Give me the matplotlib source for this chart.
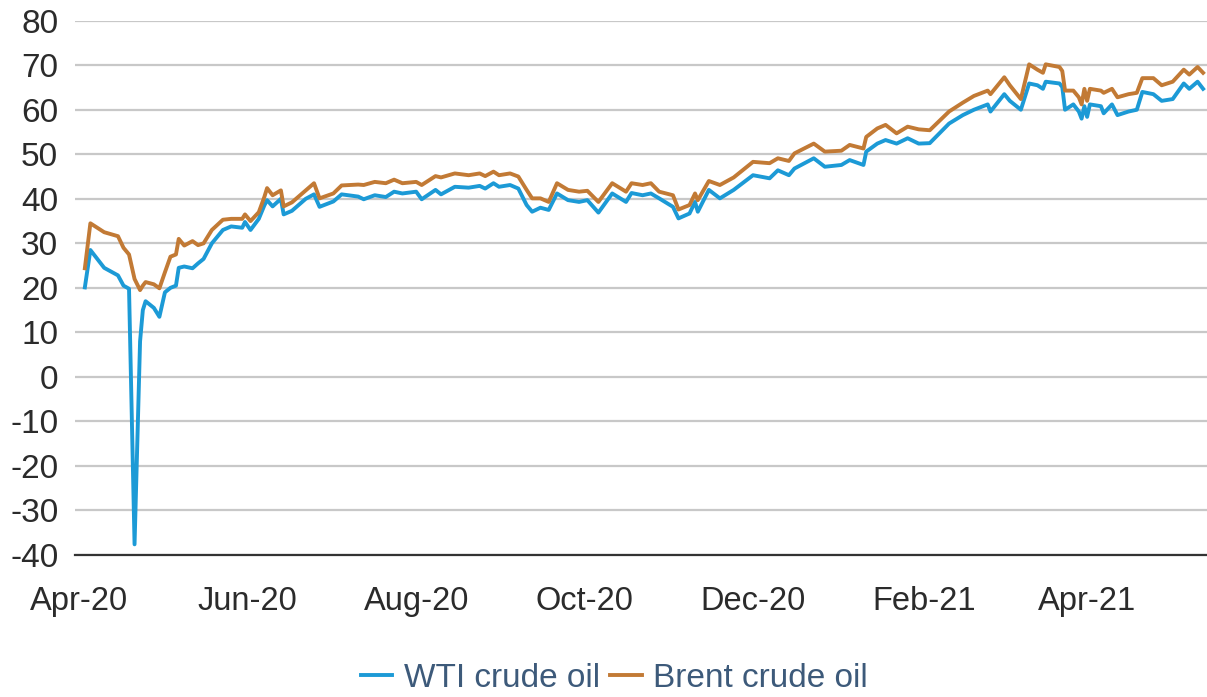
import matplotlib
matplotlib.use("Agg")
import matplotlib.pyplot as plt
import matplotlib.dates as mdates
import pandas as pd

plt.rcParams['font.family'] = ['Liberation Sans', 'DejaVu Sans']
plt.rcParams['axes.unicode_minus'] = False

# values (USD per barrel)
dates = [
    "2020-04-03", "2020-04-05", "2020-04-10", "2020-04-15", "2020-04-17", "2020-04-19",
    "2020-04-21", "2020-04-23", "2020-04-24", "2020-04-25", "2020-04-28", "2020-04-30",
    "2020-05-02", "2020-05-04", "2020-05-06", "2020-05-07", "2020-05-09", "2020-05-12",
    "2020-05-14", "2020-05-16", "2020-05-19", "2020-05-23", "2020-05-26", "2020-05-30",
    "2020-05-31", "2020-06-02", "2020-06-05", "2020-06-07", "2020-06-08", "2020-06-10",
    "2020-06-13", "2020-06-14", "2020-06-17", "2020-06-22", "2020-06-25", "2020-06-27",
    "2020-07-02", "2020-07-05", "2020-07-11", "2020-07-13", "2020-07-17", "2020-07-21",
    "2020-07-24", "2020-07-27", "2020-08-01", "2020-08-03", "2020-08-08", "2020-08-10",
    "2020-08-15", "2020-08-20", "2020-08-24", "2020-08-26", "2020-08-29", "2020-08-31",
    "2020-09-04", "2020-09-07", "2020-09-10", "2020-09-12", "2020-09-15", "2020-09-18",
    "2020-09-21", "2020-09-25", "2020-09-29", "2020-10-02", "2020-10-06", "2020-10-11",
    "2020-10-16", "2020-10-18", "2020-10-22", "2020-10-25", "2020-10-28", "2020-11-02",
    "2020-11-04", "2020-11-08", "2020-11-10", "2020-11-11", "2020-11-15", "2020-11-19",
    "2020-11-24", "2020-12-01", "2020-12-07", "2020-12-10", "2020-12-14", "2020-12-16",
    "2020-12-23", "2020-12-27", "2021-01-02", "2021-01-05", "2021-01-10", "2021-01-11",
    "2021-01-15", "2021-01-18", "2021-01-22", "2021-01-26", "2021-01-30", "2021-02-03",
    "2021-02-10", "2021-02-15", "2021-02-19", "2021-02-24", "2021-02-25", "2021-03-02",
    "2021-03-04", "2021-03-08", "2021-03-11", "2021-03-14", "2021-03-16", "2021-03-17",
    "2021-03-22", "2021-03-23", "2021-03-24", "2021-03-27", "2021-03-29", "2021-03-30",
    "2021-03-31", "2021-04-01", "2021-04-02", "2021-04-06", "2021-04-07", "2021-04-10",
    "2021-04-12", "2021-04-16", "2021-04-19", "2021-04-21", "2021-04-25", "2021-04-28",
    "2021-05-02", "2021-05-06", "2021-05-08", "2021-05-11", "2021-05-13",
]

wti = [
    20.1, 28.5, 24.5, 22.8, 20.5, 19.8,
    -37.6, 8.0, 15.0, 17.0, 15.5, 13.5,
    19.0, 20.0, 20.5, 24.5, 24.8, 24.4,
    25.5, 26.5, 30.0, 33.0, 33.8, 33.5,
    34.8, 33.0, 35.5, 38.5, 39.7, 38.3,
    40.0, 36.5, 37.3, 40.0, 41.0, 38.2,
    39.4, 41.0, 40.5, 39.9, 40.8, 40.4,
    41.6, 41.2, 41.6, 39.9, 42.0, 41.0,
    42.7, 42.5, 42.9, 42.3, 43.5, 42.7,
    43.1, 42.3, 38.6, 37.1, 38.0, 37.5,
    41.2, 39.7, 39.3, 39.7, 36.9, 41.2,
    39.3, 41.3, 40.8, 41.2, 40.1, 38.2,
    35.6, 36.7, 39.3, 37.1, 42.0, 40.1,
    42.0, 45.3, 44.6, 46.4, 45.3, 46.8,
    49.1, 47.2, 47.6, 48.7, 47.6, 50.6,
    52.4, 53.2, 52.4, 53.6, 52.4, 52.5,
    56.9, 58.8, 60.0, 61.2, 59.6, 63.5,
    62.0, 60.0, 65.9, 65.5, 64.7, 66.3,
    65.9, 65.1, 60.0, 61.2, 59.6, 58.0,
    60.8, 58.4, 61.2, 60.8, 59.2, 61.2,
    58.8, 59.6, 60.0, 64.0, 63.5, 62.0,
    62.4, 65.9, 64.7, 66.3, 64.7,
]

brent = [
    24.4, 34.5, 32.5, 31.6, 29.0, 27.5,
    22.0, 19.5, 20.5, 21.3, 20.8, 19.9,
    23.5, 27.0, 27.5, 31.0, 29.5, 30.5,
    29.6, 30.0, 33.0, 35.3, 35.5, 35.5,
    36.5, 35.0, 37.0, 40.4, 42.4, 40.8,
    41.9, 38.3, 39.2, 41.9, 43.5, 40.1,
    41.2, 43.0, 43.2, 43.1, 43.8, 43.5,
    44.3, 43.5, 43.8, 43.1, 45.1, 44.8,
    45.7, 45.3, 45.7, 45.1, 46.1, 45.3,
    45.7, 45.0, 42.0, 40.1, 40.1, 39.3,
    43.5, 42.0, 41.6, 41.8, 39.3, 43.5,
    41.6, 43.5, 43.1, 43.5, 41.6, 40.8,
    37.6, 38.6, 41.2, 39.7, 44.0, 43.1,
    44.8, 48.3, 48.0, 49.1, 48.5, 50.2,
    52.4, 50.6, 50.8, 52.1, 51.3, 53.9,
    55.8, 56.6, 54.7, 56.2, 55.6, 55.4,
    59.6, 61.6, 63.1, 64.3, 63.5, 67.3,
    65.5, 62.4, 70.2, 69.0, 68.3, 70.2,
    69.6, 68.7, 64.3, 64.3, 62.8, 61.2,
    64.7, 62.0, 64.7, 64.3, 63.8, 64.7,
    62.8, 63.5, 63.8, 67.1, 67.1, 65.5,
    66.3, 69.0, 67.9, 69.6, 68.3,
]

x = pd.to_datetime(dates)

fig = plt.figure(figsize=(12.07, 6.97), dpi=100)
ax = fig.add_axes([0.0621, 0.2037, 0.9379, 0.7666])

ax.plot(x, wti, color="#1c9ad6", lw=2.8, label="WTI crude oil", solid_joinstyle="round")
ax.plot(x, brent, color="#c27a35", lw=2.8, label="Brent crude oil", solid_joinstyle="round")

ax.set_ylim(-40, 80)
ax.set_yticks(range(-40, 81, 10))
ax.set_xlim(pd.Timestamp("2020-03-30 10:00"), pd.Timestamp("2021-05-14 10:00"))
ax.xaxis.set_major_locator(mdates.MonthLocator(bymonth=[2, 4, 6, 8, 10, 12]))
ax.xaxis.set_major_formatter(mdates.DateFormatter("%b-%y"))

ax.grid(axis="y", color="#c8c8c8", lw=1.6)
ax.set_axisbelow(True)
for s in ["left", "right", "top"]:
    ax.spines[s].set_visible(False)
ax.spines["bottom"].set_color("#333333")
ax.spines["bottom"].set_linewidth(1.6)

ax.tick_params(axis="y", length=0, pad=12, labelsize=24, labelcolor="#2b2b2b")
ax.tick_params(axis="x", length=0, pad=22, labelsize=23.5, labelcolor="#2b2b2b")

leg = fig.legend(loc="center", bbox_to_anchor=(0.509, 0.027), ncol=2, frameon=False,
                 fontsize=24, handlelength=0.95, handletextpad=0.35, columnspacing=0.3,
                 borderpad=0)
for t in leg.get_texts():
    t.set_color("#3d5a7a")

fig.savefig("out.png", dpi=100)
